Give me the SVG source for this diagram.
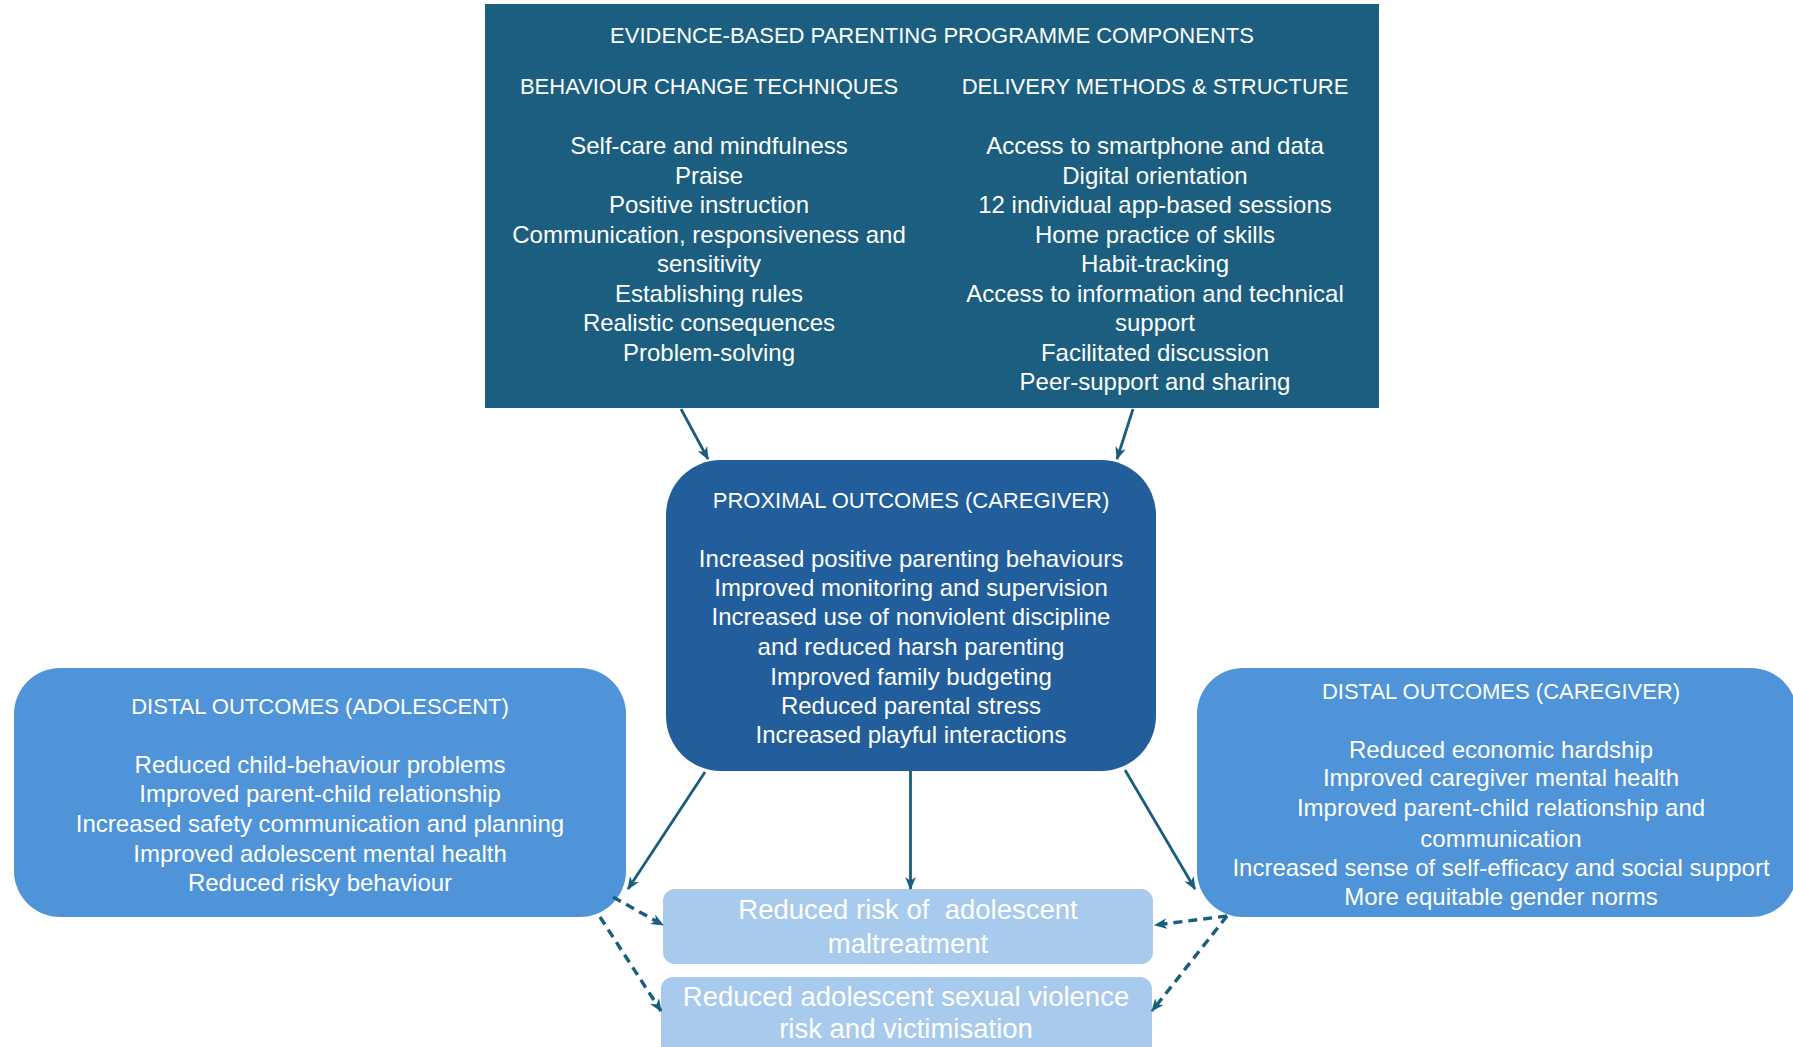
<svg xmlns="http://www.w3.org/2000/svg" width="1793" height="1047" viewBox="0 0 1793 1047">
<defs>
<style>
text{font-family:"Liberation Sans",Arial,sans-serif;fill:#ffffff;text-anchor:middle}
.h{font-size:22px}
.b{font-size:24px}
.f{font-size:27.5px}
.conn line{stroke:#1a5e7e;stroke-width:2.8;fill:none;marker-end:url(#ah)}
.conn line.d{stroke-width:3.4;stroke-dasharray:9 6}
</style>
<marker id="ah" viewBox="0 0 12 10" refX="11" refY="5" markerWidth="13" markerHeight="11" markerUnits="userSpaceOnUse" orient="auto">
<path d="M0,0 L12,5 L0,10 L3.5,5 z" fill="#1a5e7e"/>
</marker>
</defs>
<rect width="1793" height="1047" fill="#ffffff"/>

<g id="components">
<rect x="485" y="4" width="894" height="404" fill="#1b5e7f"/>
<text class="h" x="932" y="43">EVIDENCE-BASED PARENTING PROGRAMME COMPONENTS</text>
<text class="h" x="709" y="94">BEHAVIOUR CHANGE TECHNIQUES</text>
<text class="h" x="1155" y="94">DELIVERY METHODS &amp; STRUCTURE</text>
<text class="b" x="709" y="154">Self-care and mindfulness</text>
<text class="b" x="709" y="183.5">Praise</text>
<text class="b" x="709" y="213">Positive instruction</text>
<text class="b" x="709" y="242.5">Communication, responsiveness and</text>
<text class="b" x="709" y="272">sensitivity</text>
<text class="b" x="709" y="301.5">Establishing rules</text>
<text class="b" x="709" y="331">Realistic consequences</text>
<text class="b" x="709" y="360.5">Problem-solving</text>
<text class="b" x="1155" y="154">Access to smartphone and data</text>
<text class="b" x="1155" y="183.5">Digital orientation</text>
<text class="b" x="1155" y="213">12 individual app-based sessions</text>
<text class="b" x="1155" y="242.5">Home practice of skills</text>
<text class="b" x="1155" y="272">Habit-tracking</text>
<text class="b" x="1155" y="301.5">Access to information and technical</text>
<text class="b" x="1155" y="331">support</text>
<text class="b" x="1155" y="360.5">Facilitated discussion</text>
<text class="b" x="1155" y="390">Peer-support and sharing</text>
</g>

<g id="proximal">
<rect x="666" y="460" width="490" height="311" rx="55" ry="55" fill="#225e9b"/>
<text class="h" x="911" y="508">PROXIMAL OUTCOMES (CAREGIVER)</text>
<text class="b" x="911" y="566.5">Increased positive parenting behaviours</text>
<text class="b" x="911" y="595.5">Improved monitoring and supervision</text>
<text class="b" x="911" y="625">Increased use of nonviolent discipline</text>
<text class="b" x="911" y="655">and reduced harsh parenting</text>
<text class="b" x="911" y="684.5">Improved family budgeting</text>
<text class="b" x="911" y="714">Reduced parental stress</text>
<text class="b" x="911" y="743">Increased playful interactions</text>
</g>

<g id="distal-adolescent">
<rect x="14" y="668" width="612" height="249" rx="46" ry="46" fill="#4f94d8"/>
<text class="h" x="320" y="714">DISTAL OUTCOMES (ADOLESCENT)</text>
<text class="b" x="320" y="773">Reduced child-behaviour problems</text>
<text class="b" x="320" y="801.5">Improved parent-child relationship</text>
<text class="b" x="320" y="832">Increased safety communication and planning</text>
<text class="b" x="320" y="862">Improved adolescent mental health</text>
<text class="b" x="320" y="890.5">Reduced risky behaviour</text>
</g>

<g id="distal-caregiver">
<rect x="1197" y="668" width="600" height="249" rx="46" ry="46" fill="#4f94d8"/>
<text class="h" x="1501" y="699">DISTAL OUTCOMES (CAREGIVER)</text>
<text class="b" x="1501" y="758">Reduced economic hardship</text>
<text class="b" x="1501" y="786">Improved caregiver mental health</text>
<text class="b" x="1501" y="816">Improved parent-child relationship and</text>
<text class="b" x="1501" y="846.5">communication</text>
<text class="b" x="1501" y="875.5">Increased sense of self-efficacy and social support</text>
<text class="b" x="1501" y="905">More equitable gender norms</text>
</g>

<g id="maltreatment">
<rect x="663" y="889" width="490" height="75" rx="12" ry="12" fill="#a8caec"/>
<text class="f" x="908" y="919" xml:space="preserve">Reduced risk of  adolescent</text>
<text class="f" x="908" y="952.5">maltreatment</text>
</g>

<g id="sexual-violence">
<rect x="661" y="977" width="491" height="90" rx="12" ry="12" fill="#a8caec"/>
<text class="f" x="906" y="1006">Reduced adolescent sexual violence</text>
<text class="f" x="906" y="1038">risk and victimisation</text>
</g>

<g id="connectors" class="conn">
<line x1="681" y1="409" x2="708" y2="459"/>
<line x1="1133" y1="409" x2="1117" y2="459"/>
<line x1="705" y1="772" x2="628" y2="889"/>
<line x1="910.5" y1="771" x2="910.5" y2="889"/>
<line x1="1125" y1="770" x2="1195" y2="889"/>
<line class="d" x1="613" y1="897" x2="663" y2="925"/>
<line class="d" x1="600" y1="917" x2="661" y2="1011"/>
<line class="d" x1="1227" y1="916" x2="1155" y2="925"/>
<line class="d" x1="1227" y1="916" x2="1152" y2="1011"/>
</g>
</svg>
